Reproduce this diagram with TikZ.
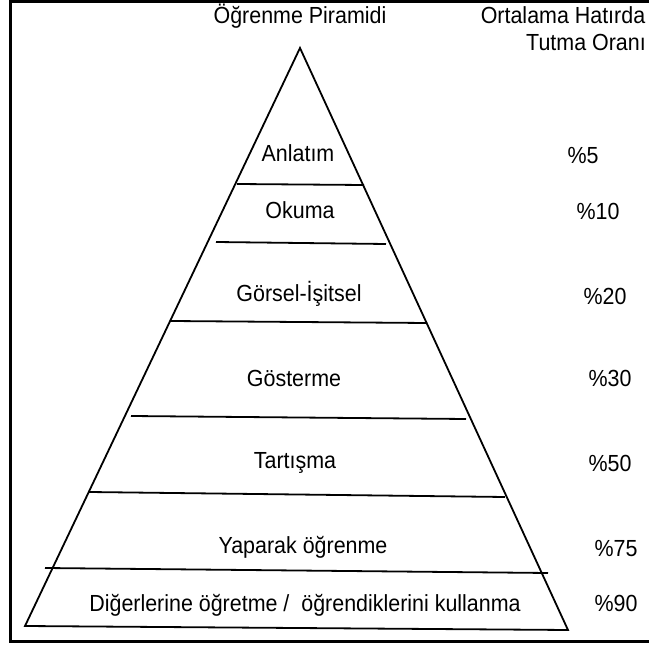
\documentclass[tikz,border=0pt]{standalone}
\usepackage{fontspec}
\setmainfont[FakeStretch=0.92]{Liberation Sans}
\begin{document}
\begin{tikzpicture}[x=1pt,y=-1pt,
  lbl/.style={anchor=base,inner sep=0pt,font=\fontsize{23.3}{26}\selectfont},
  pyr/.style={line width=1.8pt,line join=miter},
  divline/.style={line width=1.8pt},
  frame/.style={line width=3pt}]
\useasboundingbox (0,0) rectangle (649,647);
% pyramid
\coordinate (apex) at (300,48);
\coordinate (bl) at (25,626);
\coordinate (br) at (568,630);
\draw[pyr] (bl) -- (apex) -- (br) -- cycle;
% dividers
\coordinate (d1l) at (237,184); \coordinate (d1r) at (364,185);
\coordinate (d2l) at (216,242); \coordinate (d2r) at (386,244);
\coordinate (d3l) at (171,321); \coordinate (d3r) at (427,323);
\coordinate (d4l) at (131,416); \coordinate (d4r) at (466,419);
\coordinate (d5l) at (89,492);  \coordinate (d5r) at (505,497);
\coordinate (d6l) at (45,568);  \coordinate (d6r) at (548,573);
\draw[divline] (d1l) -- (d1r);
\draw[divline] (d2l) -- (d2r);
\draw[divline] (d3l) -- (d3r);
\draw[divline] (d4l) -- (d4r);
\draw[divline] (d5l) -- (d5r);
\draw[divline] (d6l) -- (d6r);
% headings
\node[lbl] (title) at (300,23.5) {Öğrenme Piramidi};
\node[lbl] (h1) at (563,23.5) {Ortalama Hatırda};
\node[lbl] (h2) at (586,51) {Tutma Oranı};
% level labels
\node[lbl] (l1) at (298,162) {Anlatım};
\node[lbl] (l2) at (300,219) {Okuma};
\node[lbl] (l3) at (299,302) {Görsel-İşitsel};
\node[lbl] (l4) at (294,387) {Gösterme};
\node[lbl] (l5) at (295,468) {Tartışma};
\node[lbl] (l6) at (303,553) {Yaparak öğrenme};
\node[lbl] (l7) at (305,611) {Diğerlerine öğretme /\ \ öğrendiklerini kullanma};
% percentages
\node[lbl] (p1) at (583,164) {\%5};
\node[lbl] (p2) at (598,220) {\%10};
\node[lbl] (p3) at (605,305) {\%20};
\node[lbl] (p4) at (610,387) {\%30};
\node[lbl] (p5) at (610,472) {\%50};
\node[lbl] (p6) at (616,557) {\%75};
\node[lbl] (p7) at (616,611) {\%90};
% frame (open at right), drawn last
\coordinate (f1) at (649,1.2);
\coordinate (f2) at (10,1.2);
\coordinate (f3) at (10,641);
\coordinate (f4) at (649,641);
\draw[frame] (f1) -- (f2) -- (f3) -- (f4);
\end{tikzpicture}
\end{document}
